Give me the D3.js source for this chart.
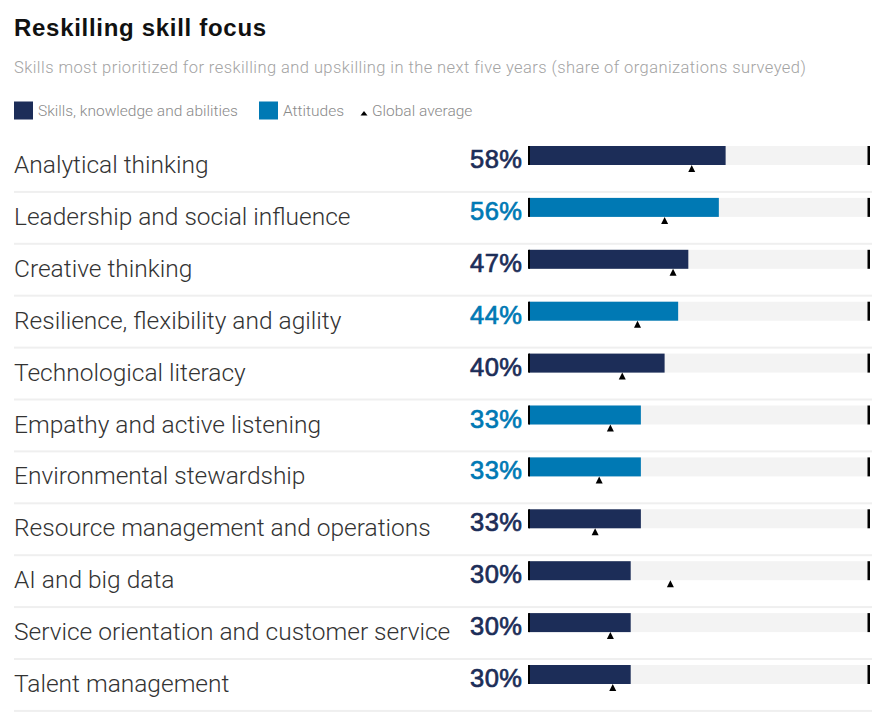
<!DOCTYPE html>
<html>
<head>
<meta charset="utf-8">
<script src="https://cdn.jsdelivr.net/npm/d3@7"></script>
<style>
  html, body { margin: 0; padding: 0; background: #ffffff; }
  svg { display: block; }
</style>
</head>
<body>
<svg id="chart" width="892" height="713"></svg>
<script>
const title = "Reskilling skill focus";
const subtitle = "Skills most prioritized for reskilling and upskilling in the next five years (share of organizations surveyed)";
const skills = [
  "Analytical thinking",
  "Leadership and social influence",
  "Creative thinking",
  "Resilience, flexibility and agility",
  "Technological literacy",
  "Empathy and active listening",
  "Environmental stewardship",
  "Resource management and operations",
  "AI and big data",
  "Service orientation and customer service",
  "Talent management"
];
const values = [58, 56, 47, 44, 40, 33, 33, 33, 30, 30, 30];
const types = ["skills", "attitudes", "skills", "attitudes", "skills", "attitudes", "attitudes", "skills", "skills", "skills", "skills"];
const globalAverage = [48, 40, 42.5, 32, 27.5, 24, 20.7, 19.5, 41.7, 24, 24.7];
const legendLabels = ["Skills, knowledge and abilities", "Attitudes", "Global average"];

const colors = { skills: "#1c2d58", attitudes: "#0079b4" };
const svg = d3.select("#chart");
const data = skills.map((s, i) => ({ skill: s, value: values[i], type: types[i], avg: globalAverage[i] }));

// Title & subtitle
svg.append("text").attr("x", 14).attr("y", 36)
  .attr("font-family", "Liberation Sans, Arial, sans-serif").attr("font-weight", 700)
  .attr("font-size", 24).attr("letter-spacing", 0.7).attr("fill", "#111").text(title);
svg.append("text").attr("x", 14).attr("y", 73)
  .attr("font-family", "Roboto, sans-serif").attr("font-weight", 300)
  .attr("font-size", 16.5).attr("letter-spacing", 0.43).attr("fill", "#a3a3a3").text(subtitle);

// Legend
const lg = svg.append("g").attr("font-family", "Roboto, sans-serif").attr("font-weight", 300)
  .attr("font-size", 15.5).attr("fill", "#8a8a8a");
lg.append("rect").attr("x", 14).attr("y", 101.5).attr("width", 19).attr("height", 18).attr("fill", colors.skills);
lg.append("text").attr("x", 38).attr("y", 116).text(legendLabels[0]);
lg.append("rect").attr("x", 259).attr("y", 101.5).attr("width", 19).attr("height", 18).attr("fill", colors.attitudes);
lg.append("text").attr("x", 283).attr("y", 116).text(legendLabels[1]);
lg.append("path").attr("d", "M360.5,115.5 L364,111 L367.5,115.5 Z").attr("fill", "#000");
lg.append("text").attr("x", 372).attr("y", 116).text(legendLabels[2]);

// Scales
const y = d3.scaleBand().domain(skills).range([140, 140 + 11 * 51.9]).padding(0);
const x = d3.scaleLinear().domain([0, 100]).range([529, 868]);

const rows = svg.append("g").selectAll("g").data(data).join("g")
  .attr("transform", d => `translate(0,${y(d.skill)})`);

// separators
rows.append("rect").attr("x", 14).attr("y", y.bandwidth() - 1).attr("width", 858).attr("height", 2).attr("fill", "#efefef");

// labels
rows.append("text").attr("x", 14).attr("y", 33)
  .attr("font-family", "Roboto, sans-serif").attr("font-weight", 300)
  .attr("font-size", 24.5).attr("fill", "#333").text(d => d.skill);

// percentage
rows.append("text").attr("x", 522.5).attr("y", 28).attr("text-anchor", "end")
  .attr("font-family", "Liberation Sans, Arial, sans-serif").attr("font-weight", 400)
  .attr("font-size", 25.5).attr("letter-spacing", 0.5)
  .attr("fill", d => colors[d.type]).attr("stroke", d => colors[d.type]).attr("stroke-width", 0.7)
  .text(d => d.value + "%");

// track
rows.append("rect").attr("x", x(0)).attr("y", 6).attr("width", x(100) - x(0)).attr("height", 19).attr("fill", "#f3f3f3");
// bar
rows.append("rect").attr("x", x(0)).attr("y", 6).attr("width", d => x(d.value) - x(0)).attr("height", 19).attr("fill", d => colors[d.type]);
// end lines
rows.append("rect").attr("x", x(0) - 1).attr("y", 6).attr("width", 2).attr("height", 19).attr("fill", "#000");
rows.append("rect").attr("x", x(100) - 0.5).attr("y", 6).attr("width", 2.5).attr("height", 19).attr("fill", "#000");
// global average triangle
rows.append("path").attr("d", d => {
  const cx = x(d.avg);
  return `M${cx - 3.5},32 L${cx},25 L${cx + 3.5},32 Z`;
}).attr("fill", "#000");
</script>
</body>
</html>
